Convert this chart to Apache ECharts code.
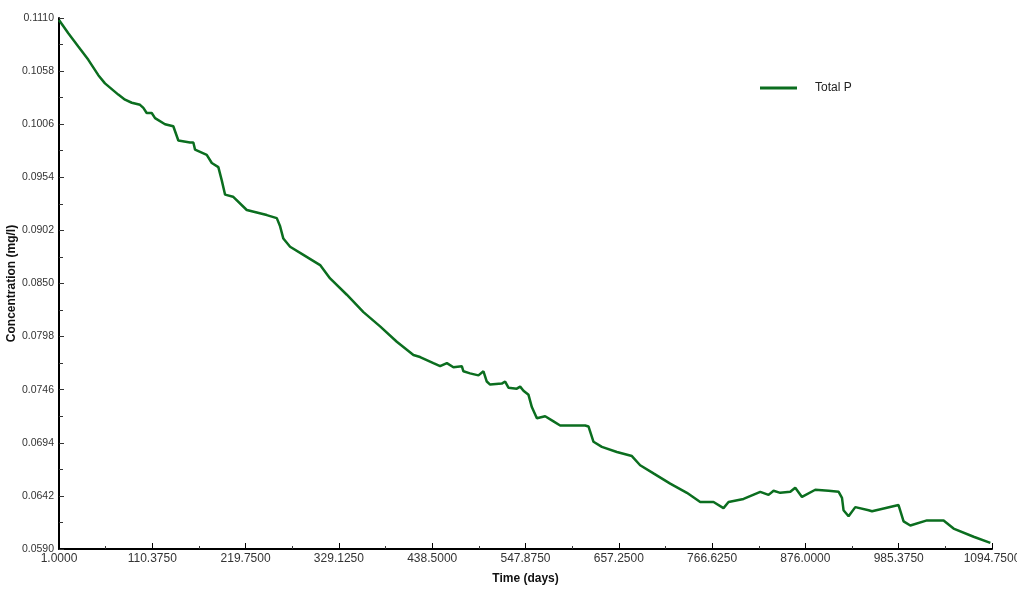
<!DOCTYPE html>
<html>
<head>
<meta charset="utf-8">
<script src="https://cdn.jsdelivr.net/npm/echarts@6/dist/echarts.min.js"></script>
<style>html,body{margin:0;padding:0;background:#fff;}#c{width:1017px;height:594px;}</style>
</head>
<body>
<div id="c"></div>
<script>
const seriesName = 'Total P';
const xAxisTitle = 'Time (days)';
const yAxisTitle = 'Concentration (mg/l)';
const days = [1.0, 11.9, 23.6, 35.4, 47.1, 54.9, 70.5, 78.4, 86.3, 96.0, 99.9, 103.8, 109.7, 113.6, 125.3, 135.0, 140.9, 154.6, 158.5, 160.5, 174.2, 180.1, 187.8, 191.8, 195.7, 205.0, 221.1, 244.6, 256.3, 260.2, 264.0, 271.9, 287.5, 307.1, 318.8, 338.4, 357.9, 377.4, 397.0, 416.5, 424.3, 439.9, 447.8, 455.7, 463.4, 473.2, 475.1, 482.9, 492.7, 498.6, 502.5, 506.4, 520.1, 524.0, 527.9, 537.7, 541.6, 545.5, 551.4, 555.3, 561.2, 570.9, 580.7, 588.5, 617.8, 621.7, 627.6, 637.4, 655.0, 672.6, 682.3, 697.9, 717.5, 737.1, 752.7, 768.3, 780.0, 785.9, 803.5, 823.1, 832.8, 838.7, 846.5, 858.3, 864.1, 872.0, 887.6, 903.2, 915.0, 918.9, 920.7, 926.6, 934.5, 950.1, 954.1, 985.2, 991.1, 999.0, 1018.5, 1038.0, 1049.7, 1073.2, 1092.8];
const totalP = [0.1108, 0.1095, 0.1082, 0.1069, 0.1054, 0.1046, 0.1035, 0.1030, 0.1027, 0.1025, 0.1022, 0.1017, 0.1017, 0.1012, 0.1006, 0.1004, 0.0990, 0.0988, 0.0988, 0.0981, 0.0976, 0.0968, 0.0964, 0.0951, 0.0937, 0.0935, 0.0922, 0.0917, 0.0914, 0.0906, 0.0894, 0.0886, 0.0878, 0.0868, 0.0855, 0.0839, 0.0822, 0.0808, 0.0793, 0.0780, 0.0778, 0.0772, 0.0769, 0.0772, 0.0768, 0.0769, 0.0764, 0.0762, 0.0760, 0.0764, 0.0754, 0.0751, 0.0752, 0.0754, 0.0748, 0.0747, 0.0749, 0.0745, 0.0741, 0.0729, 0.0718, 0.0720, 0.0715, 0.0711, 0.0711, 0.0710, 0.0695, 0.0690, 0.0685, 0.0681, 0.0672, 0.0664, 0.0654, 0.0645, 0.0636, 0.0636, 0.0630, 0.0636, 0.0639, 0.0646, 0.0643, 0.0647, 0.0645, 0.0646, 0.0650, 0.0641, 0.0648, 0.0647, 0.0646, 0.0640, 0.0628, 0.0622, 0.0631, 0.0628, 0.0627, 0.0633, 0.0617, 0.0613, 0.0618, 0.0618, 0.0610, 0.0602, 0.0596];
const xMin = 1.0, xMax = 1094.75, xStep = 109.375;
const yMin = 0.0590, yMax = 0.1110, yStep = 0.0052;

const chart = echarts.init(document.getElementById('c'), null, {renderer: 'canvas'});
const font = '"Liberation Sans", Arial, sans-serif';
chart.setOption({
  backgroundColor: '#ffffff',
  animation: false,
  grid: {left: 59, right: 25, top: 18, bottom: 45, containLabel: false, outerBoundsMode: 'none'},
  legend: {
    show: true, left: 755, top: 77,
    data: [seriesName],
    icon: 'rect', itemWidth: 37, itemHeight: 3, itemGap: 0,
    textStyle: {color: '#222', fontSize: 12, fontFamily: font, padding: [0, 0, 0, 13]}
  },
  xAxis: {
    type: 'value', min: xMin, max: xMax, interval: xStep,
    name: xAxisTitle, nameLocation: 'middle', nameGap: 24,
    nameTextStyle: {color: '#111', fontSize: 12, fontWeight: 'bold', fontFamily: font},
    axisLine: {show: true, lineStyle: {color: '#000', width: 2}},
    axisTick: {show: true, inside: true, length: 6, lineStyle: {color: '#000', width: 1}},
    minorTick: {show: true, splitNumber: 2, length: 3, lineStyle: {color: '#333', width: 1}},
    splitLine: {show: false},
    axisLabel: {color: '#333', fontSize: 12, fontFamily: font, margin: 4, formatter: v => v.toFixed(4)}
  },
  yAxis: {
    type: 'value', min: yMin, max: yMax, interval: yStep,
    name: yAxisTitle, nameLocation: 'middle', nameGap: 41, nameMoveOverlap: false,
    nameTextStyle: {color: '#111', fontSize: 12, fontWeight: 'bold', fontFamily: font},
    axisLine: {show: true, onZero: false, lineStyle: {color: '#000', width: 2}},
    axisTick: {show: true, inside: true, length: 5, lineStyle: {color: '#333', width: 1}},
    minorTick: {show: true, splitNumber: 2, length: 4, lineStyle: {color: '#333', width: 1}},
    splitLine: {show: false},
    axisLabel: {color: '#333', fontSize: 10.5, fontFamily: font, margin: 5, formatter: v => v.toFixed(4)}
  },
  series: [{
    name: seriesName, type: 'line', showSymbol: false, symbol: 'none',
    data: days.map((d, i) => [d, totalP[i]]),
    lineStyle: {color: '#0b6e1f', width: 2.5},
    itemStyle: {color: '#0b6e1f'}
  }]
});
</script>
</body>
</html>
